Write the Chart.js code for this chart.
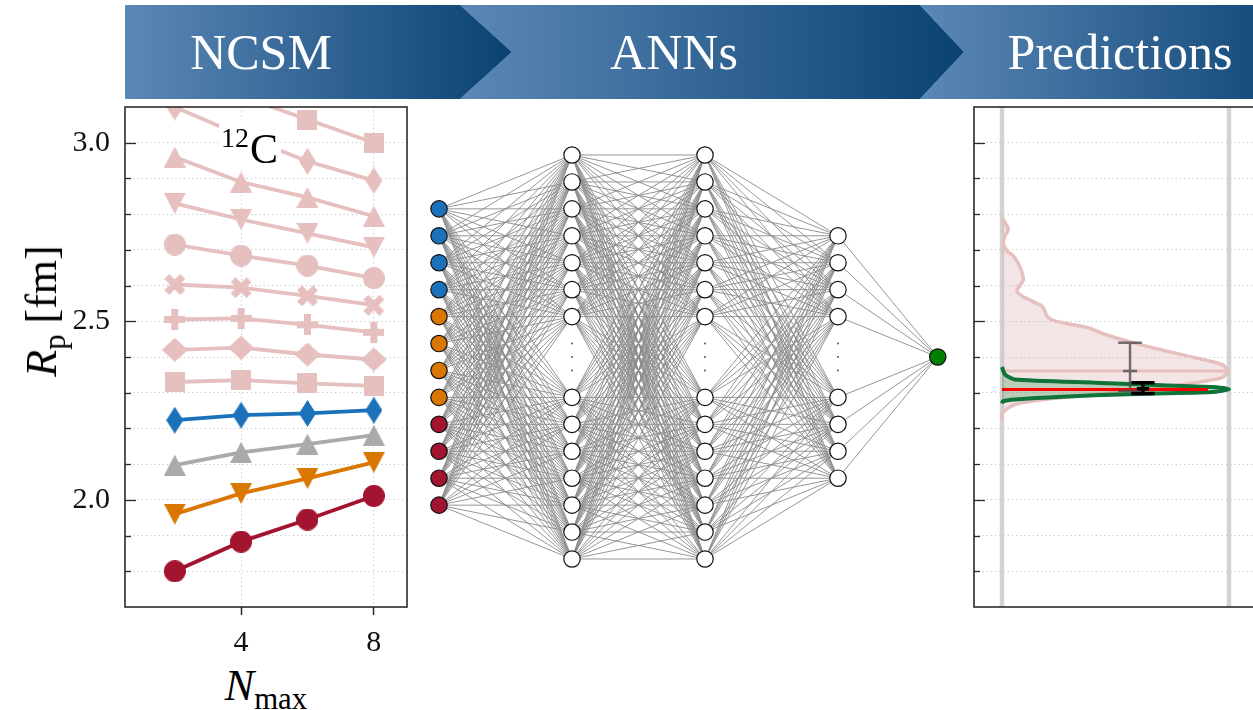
<!DOCTYPE html>
<html>
<head>
<meta charset="utf-8">
<title>NCSM - ANNs - Predictions</title>
<script src="https://cdn.jsdelivr.net/npm/chart.js@4.4.1/dist/chart.umd.min.js"></script>
<style>
    html, body { margin: 0; padding: 0; background: #fff; }
    body { position: relative; width: 1253px; height: 710px; overflow: hidden; font-family: "Liberation Serif", serif; color: #000; }
    canvas { position: absolute; }
    .chev { position: absolute; top: 5px; height: 94px; background: linear-gradient(to right, #5b88b6, #0a4273); }
    .chev-text { position: absolute; top: 5px; height: 94px; line-height: 94px; font-size: 50px; color: #fff; transform: translateX(-50%); white-space: nowrap; }
    .lab { position: absolute; white-space: nowrap; font-size: 44px; line-height: 44px; }
    .lab sub { font-size: 0.7em; vertical-align: -0.3em; line-height: 0; font-style: normal; }
    #c12 { position: absolute; left: 219px; top: 119px; width: 62px; height: 50px; background: #fff; }
    #c12 span { position: absolute; white-space: nowrap; }
</style>
</head>
<body>
<div class="chev" style="left:920px; width:400px; clip-path: polygon(0 0, 400px 0, 400px 94px, 0 94px, 44px 47px)"></div>
<div class="chev" style="left:460px; width:504px; clip-path: polygon(0 0, 460px 0, 504px 47px, 460px 94px, 0 94px, 52px 47px)"></div>
<div class="chev" style="left:125px; width:387px; clip-path: polygon(0 0, 335px 0, 387px 47px, 335px 94px, 0 94px)"></div>
<div class="chev-text" style="left:261px">NCSM</div>
<div class="chev-text" style="left:674px">ANNs</div>
<div class="chev-text" style="left:1120px">Predictions</div>

<canvas id="ncsm" width="430" height="560" style="left:0; top:100px"></canvas>
<canvas id="ann" width="540" height="450" style="left:420px; top:130px"></canvas>
<canvas id="pred" width="380" height="520" style="left:900px; top:100px"></canvas>

<div class="lab" style="left:42px; top:311px; transform: translate(-50%,-50%) rotate(-90deg)"><i>R</i><sub>p</sub> [fm]</div>
<div class="lab" style="left:266px; top:664px; transform: translateX(-50%)"><i>N</i><sub>max</sub></div>
<div id="c12"><span style="left:2px; top:5px; font-size:28px; line-height:28px">12</span><span style="left:31px; top:9px; font-size:42px; line-height:42px">C</span></div>

<script>
Chart.defaults.font.family = '"Liberation Serif", serif'
Chart.defaults.color = '#111'
Chart.defaults.animation = false

var NMAX = [2, 4, 6, 8]
var X_TICKS = [4, 8]
var Y_TICKS = [1.8, 1.9, 2.0, 2.1, 2.2, 2.3, 2.4, 2.5, 2.6, 2.7, 2.8, 2.9, 3.0]
var Y_MAJOR = [2.0, 2.5, 3.0]

// proton radius of 12C vs Nmax
var RP_RED = [1.800, 1.883, 1.945, 2.011]
var RP_ORANGE = [1.960, 2.018, 2.060, 2.105]
var RP_GRAY = [2.097, 2.133, 2.156, 2.181]
var RP_BLUE = [2.223, 2.237, 2.242, 2.251]
var RP_PINK_SQUARE = [2.330, 2.335, 2.326, 2.319]
var RP_PINK_DIAMOND = [2.420, 2.426, 2.407, 2.393]
var RP_PINK_PLUS = [2.505, 2.508, 2.490, 2.469]
var RP_PINK_CROSS = [2.603, 2.594, 2.571, 2.545]
var RP_PINK_CIRCLE = [2.715, 2.684, 2.656, 2.621]
var RP_PINK_TRIDOWN = [2.830, 2.785, 2.746, 2.707]
var RP_PINK_TRIUP = [2.960, 2.890, 2.847, 2.794]
var RP_PINK_THIN = [3.100, 3.020, 2.948, 2.894]
var RP_PINK_TOP = [3.200, 3.130, 3.065, 3.000]

// network layout: layer position and node slots
var LAYER_POS = [0, 1, 2, 3, 3.75]
var LAYER_SLOTS = [
    [2, 3, 4, 5, 6, 7, 8, 9, 10, 11, 12, 13],
    [0, 1, 2, 3, 4, 5, 6, 9, 10, 11, 12, 13, 14, 15],
    [0, 1, 2, 3, 4, 5, 6, 9, 10, 11, 12, 13, 14, 15],
    [3, 4, 5, 6, 9, 10, 11, 12],
    [7.5]
]
var INPUT_GROUP = [0, 0, 0, 0, 1, 1, 1, 1, 2, 2, 2, 2]
var DOT_LAYERS = [1, 2, 3]
var DOT_SLOTS = [7, 7.5, 8]

// predicted distributions (density normalised to 1)
var PINK_KDE_Y = [2.222, 2.245, 2.267, 2.281, 2.295, 2.309, 2.328, 2.342, 2.361, 2.379, 2.398, 2.431, 2.463, 2.482, 2.501, 2.515, 2.529, 2.543, 2.569, 2.585, 2.599, 2.617, 2.651, 2.683, 2.697, 2.720, 2.739, 2.757, 2.790]
var PINK_KDE_D = [0, 0.004, 0.057, 0.19, 0.41, 0.63, 0.85, 0.969, 0.996, 0.969, 0.85, 0.63, 0.454, 0.38, 0.233, 0.197, 0.189, 0.175, 0.094, 0.065, 0.079, 0.094, 0.08, 0.050, 0.021, 0.006, 0.013, 0.028, 0]
var GREEN_KDE_Y = [2.270, 2.276, 2.281, 2.289, 2.296, 2.302, 2.310, 2.316, 2.321, 2.328, 2.337, 2.351, 2.372]
var GREEN_KDE_D = [0, 0.004, 0.057, 0.264, 0.555, 0.925, 1.0, 0.925, 0.705, 0.41, 0.057, 0.013, 0]
var PINK_MEDIAN = 2.361
var RED_VALUE = 2.309
var RED_EXTENT = [0, 0.907]
var BAND_EDGES = [0, 1]
// error bars: [position, low, mid, high]
var ERR_GRAY = [0.564, 2.305, 2.361, 2.440]
var ERR_BLACK = [0.621, 2.298, 2.311, 2.328]

var AXIS_COLOR = '#2b2b2b'
var GRID_COLOR = '#c4c4c4'
var COLOR_RED = '#a2142f'
var COLOR_ORANGE = '#d97700'
var COLOR_GRAY = '#aaaaaa'
var COLOR_BLUE = '#1b72bb'
var COLOR_PINK = '#e6bfbf'
var GROUP_COLORS = [COLOR_BLUE, COLOR_ORANGE, COLOR_RED]
var GAP = {x: null, y: null}

function MarkerCanvas(kind, color, w, h){
    var c = document.createElement('canvas')
    c.width = w; c.height = h
    var g = c.getContext('2d')
    g.fillStyle = color
    g.beginPath()
    if(kind == 'circle'){
        g.arc(w/2, h/2, w/2, 0, Math.PI*2)
    }else if(kind == 'square'){
        g.rect(0, 0, w, h)
    }else if(kind == 'diamond'){
        g.moveTo(w/2, 0); g.lineTo(w, h/2); g.lineTo(w/2, h); g.lineTo(0, h/2)
    }else if(kind == 'up'){
        g.moveTo(w/2, 0); g.lineTo(w, h); g.lineTo(0, h)
    }else if(kind == 'down'){
        g.moveTo(0, 0); g.lineTo(w, 0); g.lineTo(w/2, h)
    }else if(kind == 'plus'){
        var t = w/3
        g.rect((w-t)/2, 0, t, h); g.rect(0, (h-t)/2, w, t)
    }else if(kind == 'cross'){
        var t2 = w/3, L = w*Math.SQRT2 - t2
        g.translate(w/2, h/2); g.rotate(Math.PI/4)
        g.rect(-L/2, -t2/2, L, t2); g.rect(-t2/2, -L/2, t2, L)
    }
    g.closePath()
    g.fill()
    return c
}

function Series(vals, color, marker){
    return {
        data: NMAX.map(function(n, i){ return {x: n, y: vals[i]} }),
        borderColor: color,
        backgroundColor: color,
        borderWidth: 3.8,
        pointStyle: marker,
        pointRadius: 10,
        pointBorderWidth: 0,
        clip: 0
    }
}

function Curve(xs, ys){
    return xs.map(function(x, i){ return {x: x, y: ys[i]} })
}

function ErrorBar(e, cap, mid){
    var x = e[0]
    return [
        {x: x, y: e[1]}, {x: x, y: e[3]}, GAP,
        {x: x - cap, y: e[1]}, {x: x + cap, y: e[1]}, GAP,
        {x: x - cap, y: e[3]}, {x: x + cap, y: e[3]}, GAP,
        {x: x - mid, y: e[2]}, {x: x + mid, y: e[2]}
    ]
}

var Frame = {
    id: 'frame',
    afterDatasetsDraw: function(chart){
        var ctx = chart.ctx, a = chart.chartArea, ys = chart.scales.y
        ctx.save()
        ctx.strokeStyle = AXIS_COLOR
        ctx.lineWidth = 1.6
        ctx.strokeRect(a.left, a.top, a.right - a.left, a.bottom - a.top)
        ctx.lineWidth = 1.3
        Y_TICKS.forEach(function(v){
            var py = Math.round(ys.getPixelForValue(v)) + 0.5
            var len = Y_MAJOR.indexOf(v) >= 0 ? 11 : 6
            ctx.beginPath()
            ctx.moveTo(a.left, py)
            ctx.lineTo(a.left + len, py)
            ctx.stroke()
        })
        ctx.restore()
    }
}

function YAxis(width, showLabels){
    return {
        type: 'linear', min: 1.7, max: 3.1,
        afterBuildTicks: function(s){ s.ticks = Y_TICKS.map(function(v){ return {value: v} }) },
        afterFit: function(s){ s.width = width; s.paddingTop = 0; s.paddingBottom = 0 },
        ticks: {
            display: showLabels, padding: 15, font: {size: 30},
            callback: function(v){ return Y_MAJOR.indexOf(v) >= 0 ? v.toFixed(1) : '' }
        },
        grid: {drawTicks: false, color: GRID_COLOR, lineWidth: 1},
        border: {display: false, dash: [1.2, 3]}
    }
}

var NO_UI = {legend: {display: false}, tooltip: {enabled: false}}

// ---- left panel: NCSM runs
new Chart(document.getElementById('ncsm'), {
    type: 'line',
    data: {
        datasets: [
            Series(RP_RED, COLOR_RED, MarkerCanvas('circle', COLOR_RED, 22, 22)),
            Series(RP_ORANGE, COLOR_ORANGE, MarkerCanvas('down', COLOR_ORANGE, 22, 21)),
            Series(RP_GRAY, COLOR_GRAY, MarkerCanvas('up', COLOR_GRAY, 22, 21)),
            Series(RP_BLUE, COLOR_BLUE, MarkerCanvas('diamond', COLOR_BLUE, 17, 27)),
            Series(RP_PINK_SQUARE, COLOR_PINK, MarkerCanvas('square', COLOR_PINK, 20, 20)),
            Series(RP_PINK_DIAMOND, COLOR_PINK, MarkerCanvas('diamond', COLOR_PINK, 26, 24)),
            Series(RP_PINK_PLUS, COLOR_PINK, MarkerCanvas('plus', COLOR_PINK, 21, 21)),
            Series(RP_PINK_CROSS, COLOR_PINK, MarkerCanvas('cross', COLOR_PINK, 21, 21)),
            Series(RP_PINK_CIRCLE, COLOR_PINK, MarkerCanvas('circle', COLOR_PINK, 22, 22)),
            Series(RP_PINK_TRIDOWN, COLOR_PINK, MarkerCanvas('down', COLOR_PINK, 22, 21)),
            Series(RP_PINK_TRIUP, COLOR_PINK, MarkerCanvas('up', COLOR_PINK, 22, 21)),
            Series(RP_PINK_THIN, COLOR_PINK, MarkerCanvas('diamond', COLOR_PINK, 17, 27)),
            Series(RP_PINK_TOP, COLOR_PINK, MarkerCanvas('square', COLOR_PINK, 20, 20))
        ]
    },
    options: {
        responsive: false,
        events: [],
        layout: {autoPadding: false, padding: {top: 7, right: 23, left: 0, bottom: 0}},
        plugins: NO_UI,
        scales: {
            x: {
                type: 'linear', min: 0.5, max: 9,
                afterBuildTicks: function(s){ s.ticks = X_TICKS.map(function(v){ return {value: v} }) },
                afterFit: function(s){ s.height = 53; s.paddingLeft = 0; s.paddingRight = 0 },
                ticks: {padding: 10, font: {size: 30}, maxRotation: 0, callback: function(v){ return String(v) }},
                grid: {color: GRID_COLOR, drawTicks: true, tickLength: 8, tickColor: AXIS_COLOR, tickWidth: 1.5},
                border: {display: false, dash: [1.2, 3]}
            },
            y: YAxis(125, true)
        }
    },
    plugins: [Frame]
})

// ---- middle panel: network
var nodes = [], nodeColors = []
LAYER_SLOTS.forEach(function(slots, li){
    slots.forEach(function(s, j){
        nodes.push({x: LAYER_POS[li], y: s})
        if(li == 0) nodeColors.push(GROUP_COLORS[INPUT_GROUP[j]])
        else if(li == LAYER_SLOTS.length - 1) nodeColors.push('#007f00')
        else nodeColors.push('#ffffff')
    })
})
var edges = []
for(var li = 0; li < LAYER_SLOTS.length - 1; li++){
    LAYER_SLOTS[li].forEach(function(a){
        LAYER_SLOTS[li + 1].forEach(function(b){
            edges.push({x: LAYER_POS[li], y: a}, {x: LAYER_POS[li + 1], y: b}, GAP)
        })
    })
}
var dots = []
DOT_LAYERS.forEach(function(l){
    DOT_SLOTS.forEach(function(s){ dots.push({x: LAYER_POS[l], y: s}) })
})

new Chart(document.getElementById('ann'), {
    type: 'line',
    data: {
        datasets: [
            {data: nodes, showLine: false, pointRadius: 8.2, pointBackgroundColor: nodeColors, pointBorderColor: '#111', pointBorderWidth: 1.2, clip: false},
            {data: dots, showLine: false, pointRadius: 1, pointBackgroundColor: '#555', pointBorderWidth: 0, clip: false},
            {data: edges, borderColor: '#8a8a8a', borderWidth: 0.9, pointRadius: 0, spanGaps: false, clip: false}
        ]
    },
    options: {
        responsive: false,
        events: [],
        layout: {autoPadding: false, padding: 0},
        plugins: NO_UI,
        scales: {
            x: {type: 'linear', display: false, min: -0.1429, max: 3.9173},
            y: {type: 'linear', display: false, reverse: true, min: -0.9282, max: 15.78}
        }
    }
})

// ---- right panel: predictions
var bandLines = []
BAND_EDGES.forEach(function(x){ bandLines.push({x: x, y: 1.7}, {x: x, y: 3.1}, GAP) })

new Chart(document.getElementById('pred'), {
    type: 'line',
    data: {
        datasets: [
            {data: ErrorBar(ERR_BLACK, 0.051, 0.027), borderColor: '#000', borderWidth: 3.5, pointRadius: 0, clip: 0},
            {data: ErrorBar(ERR_GRAY, 0.052, 0.031), borderColor: 'rgba(70,70,70,0.75)', borderWidth: 2.5, pointRadius: 0, clip: 0},
            {data: Curve(RED_EXTENT, [RED_VALUE, RED_VALUE]), borderColor: '#ff0000', borderWidth: 3, pointRadius: 0, clip: 0},
            {data: Curve(GREEN_KDE_D, GREEN_KDE_Y), borderColor: '#10733a', backgroundColor: 'rgba(30,140,60,0.27)', fill: 'shape', borderWidth: 4, pointRadius: 0, tension: 0.2, clip: 0},
            {data: Curve([0, 1], [PINK_MEDIAN, PINK_MEDIAN]), borderColor: COLOR_PINK, borderWidth: 3, pointRadius: 0, clip: 0},
            {data: Curve(PINK_KDE_D, PINK_KDE_Y), borderColor: COLOR_PINK, backgroundColor: 'rgba(220,175,175,0.33)', fill: 'shape', borderWidth: 3.5, pointRadius: 0, tension: 0.25, clip: 0},
            {data: bandLines, borderColor: '#d3d3d3', borderWidth: 4.5, pointRadius: 0, clip: 0}
        ]
    },
    options: {
        responsive: false,
        events: [],
        layout: {autoPadding: false, padding: {top: 7, right: 23, left: 0, bottom: 13}},
        plugins: NO_UI,
        scales: {
            x: {type: 'linear', display: false, min: -0.1233, max: 1.1233},
            y: YAxis(74, false)
        }
    },
    plugins: [Frame]
})
</script>
</body>
</html>
